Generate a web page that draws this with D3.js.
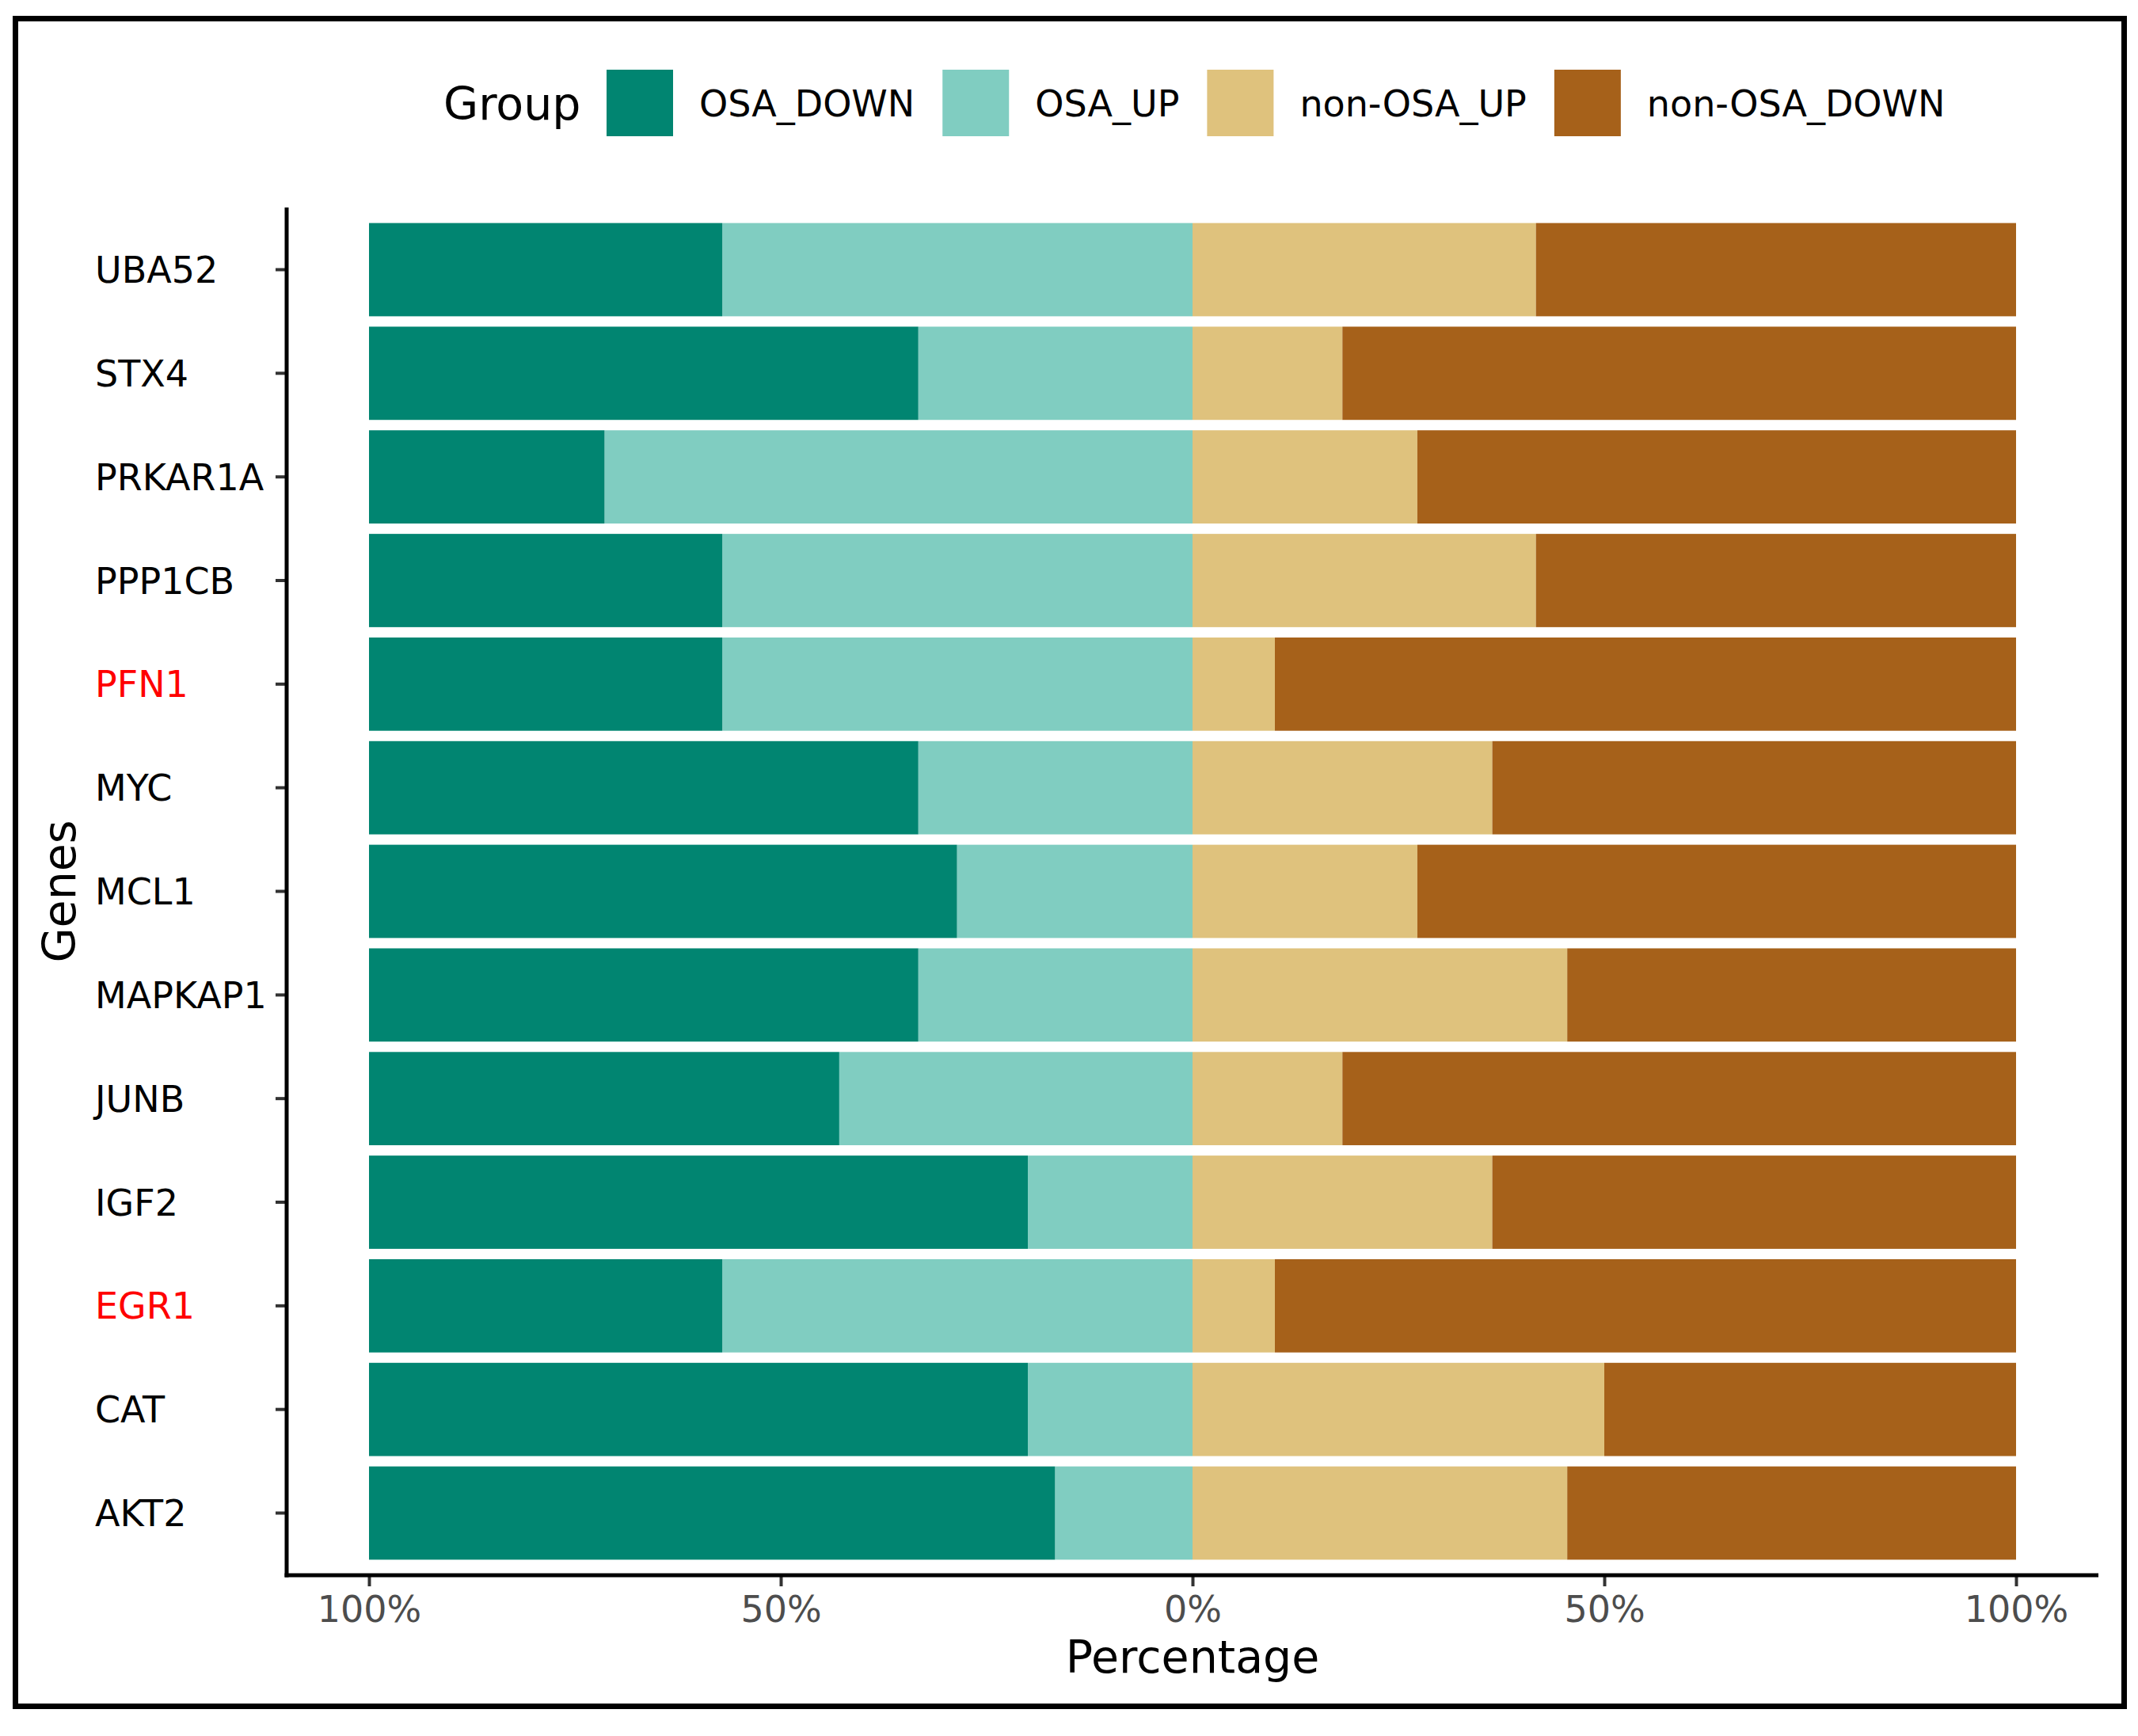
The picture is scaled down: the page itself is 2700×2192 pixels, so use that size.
<!DOCTYPE html>
<html>
<head>
<meta charset="utf-8">
<script src="https://cdn.jsdelivr.net/npm/d3@7"></script>
<style>
  html, body { margin: 0; padding: 0; background: #fff; }
  svg { display: block; font-family: "DejaVu Sans", sans-serif; }
</style>
</head>
<body>
<svg id="chart" width="2700" height="2192"></svg>
<script>
// Genes, top to bottom
const genes = ['UBA52', 'STX4', 'PRKAR1A', 'PPP1CB', 'PFN1', 'MYC', 'MCL1',
               'MAPKAP1', 'JUNB', 'IGF2', 'EGR1', 'CAT', 'AKT2'];
const redGenes = ['PFN1', 'EGR1'];

// Percentages per gene (left side: OSA, right side: non-OSA)
const osaDown    = [42.9, 66.7, 28.6, 42.9, 42.9, 66.7, 71.4, 66.7, 57.1, 80.0, 42.9, 80.0, 83.3];
const osaUp      = [57.1, 33.3, 71.4, 57.1, 57.1, 33.3, 28.6, 33.3, 42.9, 20.0, 57.1, 20.0, 16.7];
const nonOsaUp   = [41.7, 18.2, 27.3, 41.7, 10.0, 36.4, 27.3, 45.5, 18.2, 36.4, 10.0, 50.0, 45.5];
const nonOsaDown = [58.3, 81.8, 72.7, 58.3, 90.0, 63.6, 72.7, 54.5, 81.8, 63.6, 90.0, 50.0, 54.5];

const groups = ['OSA_DOWN', 'OSA_UP', 'non-OSA_UP', 'non-OSA_DOWN'];
const groupColors = ['#018571', '#80CDC1', '#DFC27D', '#A6611A'];
const xTicks = [-1, -0.5, 0, 0.5, 1];

// ---------------------------------------------------------------------------
// Layout
// ---------------------------------------------------------------------------

const panel = { left: 362, right: 2650, top: 262, bottom: 1989 };
const AXIS_FS = '46px', TITLE_FS = '57px';

const svg = d3.select('#chart');

svg.append('rect')
  .attr('x', 19.5).attr('y', 23.5)
  .attr('width', 2663).attr('height', 2131)
  .attr('fill', '#fff').attr('stroke', '#000').attr('stroke-width', 7);

const x = d3.scaleLinear().domain([-1.1, 1.1]).range([panel.left, panel.right]);
const y = d3.scaleBand().domain(genes)
  .range([panel.top, panel.bottom])
  .paddingInner(0.1).paddingOuter(0.15);
const color = d3.scaleOrdinal().domain(groups).range(groupColors);

// Diverging stack: OSA groups go left of zero, non-OSA groups right.
const rows = genes.map((g, i) => ({
  gene: g,
  'OSA_UP': -osaUp[i] / 100,
  'OSA_DOWN': -osaDown[i] / 100,
  'non-OSA_UP': nonOsaUp[i] / 100,
  'non-OSA_DOWN': nonOsaDown[i] / 100
}));

const series = d3.stack()
  .keys(['OSA_UP', 'OSA_DOWN', 'non-OSA_UP', 'non-OSA_DOWN'])
  .offset(d3.stackOffsetDiverging)(rows);

svg.append('g').selectAll('g')
  .data(series)
  .join('g')
  .attr('fill', s => color(s.key))
  .selectAll('rect')
  .data(s => s)
  .join('rect')
  .attr('x', d => x(Math.min(d[0], d[1])))
  .attr('width', d => Math.abs(x(d[1]) - x(d[0])))
  .attr('y', d => y(d.data.gene))
  .attr('height', y.bandwidth());

// ---------------------------------------------------------------------------
// Axes
// ---------------------------------------------------------------------------

const xAxis = svg.append('g')
  .attr('transform', `translate(0,${panel.bottom})`)
  .call(d3.axisBottom(x).tickValues(xTicks)
    .tickSize(14).tickPadding(12)
    .tickFormat(v => Math.round(Math.abs(v) * 100) + '%'));
xAxis.select('.domain').remove();
xAxis.selectAll('.tick line').attr('stroke', '#333').attr('stroke-width', 4);
xAxis.selectAll('.tick text')
  .attr('fill', '#4D4D4D')
  .style('font-size', AXIS_FS)
  .style('font-family', '"DejaVu Sans", sans-serif');

const yAxis = svg.append('g')
  .attr('transform', `translate(${panel.left},0)`)
  .call(d3.axisLeft(y).tickSize(14).tickPadding(0));
yAxis.select('.domain').remove();
yAxis.selectAll('.tick line').attr('stroke', '#333').attr('stroke-width', 4);
yAxis.selectAll('.tick text')
  .attr('x', 120 - panel.left)
  .attr('dy', '0.36em')
  .attr('text-anchor', 'start')
  .attr('fill', g => redGenes.includes(g) ? '#FF0000' : '#000')
  .style('font-size', AXIS_FS)
  .style('font-family', '"DejaVu Sans", sans-serif');

// Axis lines
svg.append('line')
  .attr('x1', panel.left).attr('y1', panel.top)
  .attr('x2', panel.left).attr('y2', panel.bottom + 2.5)
  .attr('stroke', '#000').attr('stroke-width', 5);
svg.append('line')
  .attr('x1', panel.left - 2.5).attr('y1', panel.bottom)
  .attr('x2', panel.right).attr('y2', panel.bottom)
  .attr('stroke', '#000').attr('stroke-width', 5);

// Axis titles
svg.append('text')
  .attr('x', (panel.left + panel.right) / 2).attr('y', 2112)
  .attr('text-anchor', 'middle')
  .style('font-size', TITLE_FS)
  .text('Percentage');

svg.append('text')
  .attr('transform', `translate(95,${(panel.top + panel.bottom) / 2}) rotate(-90)`)
  .attr('text-anchor', 'middle')
  .style('font-size', TITLE_FS)
  .text('Genes');

// ---------------------------------------------------------------------------
// Legend (top, horizontal)
// ---------------------------------------------------------------------------

const legend = svg.append('g');
const keySize = 84, keyY = 88;

legend.append('text')
  .attr('x', 560).attr('y', keyY + keySize / 2 + 21)
  .style('font-size', TITLE_FS)
  .text('Group');

let lx = 766;
groups.forEach(gr => {
  legend.append('rect')
    .attr('x', lx).attr('y', keyY)
    .attr('width', keySize).attr('height', keySize)
    .attr('fill', color(gr));
  const t = legend.append('text')
    .attr('x', lx + keySize + 33).attr('y', keyY + keySize / 2 + 17)
    .style('font-size', AXIS_FS)
    .text(gr);
  lx += keySize + 33 + t.node().getComputedTextLength() + 35;
});
</script>
</body>
</html>
